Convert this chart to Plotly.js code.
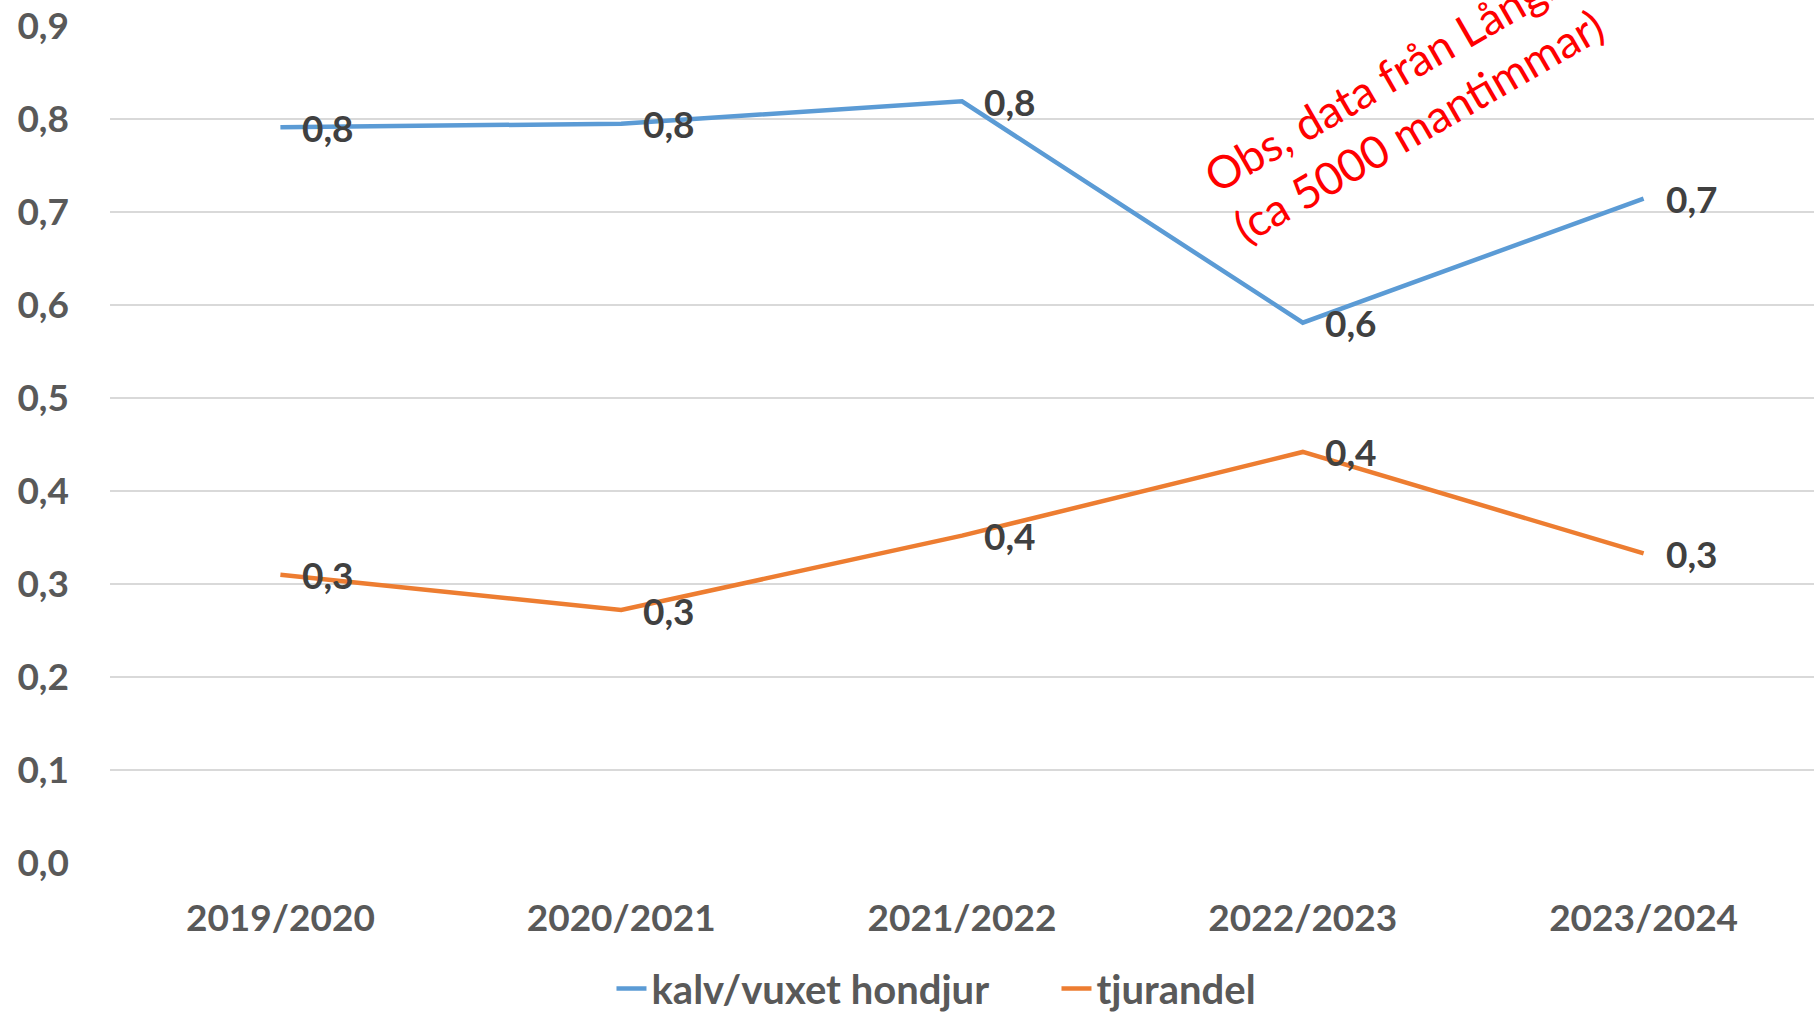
<!DOCTYPE html>
<html>
<head>
<meta charset="utf-8">
<script src="https://cdn.plot.ly/plotly-3.0.1.min.js"></script>
<style>
html,body{margin:0;padding:0;background:#fff;}
#chart{width:1814px;height:1013px;}
</style>
</head>
<body>
<div id="chart"></div>
<script>
const seasons = ["2019/2020", "2020/2021", "2021/2022", "2022/2023", "2023/2024"];
const kalvVuxetHondjur = [0.791, 0.795, 0.819, 0.581, 0.7145];
const tjurandel = [0.31, 0.272, 0.352, 0.442, 0.333];
const seriesNames = ["kalv/vuxet hondjur", "tjurandel"];
const noteLines = ["Obs, data från Långh", "(ca 5000 mantimmar)"];

const FONT = "Lato, 'DejaVu Sans', sans-serif";
const labelFont = {family: FONT, size: 37, color: "#404040", weight: 700};
const axisFont = {family: FONT, size: 37, color: "#595959", weight: 700};
const legendFont = {family: FONT, size: 40, color: "#595959", weight: 700};

function series(y, name, color) {
  return {
    type: "scatter",
    mode: "lines",
    x: seasons,
    y: y,
    name: name,
    line: {color: color, width: 4.5},
    hoverinfo: "skip"
  };
}

const data = [
  series(kalvVuxetHondjur, seriesNames[0], "#5B9BD5"),
  series(tjurandel, seriesNames[1], "#ED7D31")
];

function fmt(v) { return v.toFixed(1).replace(".", ","); }

const labelAnnotations = [];
[kalvVuxetHondjur, tjurandel].forEach(function (vals) {
  vals.forEach(function (v, i) {
    labelAnnotations.push({
      xref: "x", yref: "y",
      x: seasons[i], y: v,
      text: fmt(v),
      showarrow: false,
      xanchor: "left", yanchor: "middle",
      xshift: 20, yshift: 0,
      font: labelFont
    });
  });
});

const layout = {
  width: 1814,
  height: 1013,
  margin: {l: 110, r: 0, t: 26, b: 150, pad: 0, autoexpand: false},
  paper_bgcolor: "#ffffff",
  plot_bgcolor: "#ffffff",
  separators: ", ",
  showlegend: true,
  legend: {
    orientation: "h",
    x: 0.2943, xref: "paper", xanchor: "left",
    y: -0.150, yanchor: "middle",
    font: legendFont,
    itemwidth: 30,
    entrywidth: 400,
    entrywidthmode: "pixels",
    traceorder: "normal"
  },
  xaxis: {
    type: "category",
    range: [-0.5, 4.5],
    showgrid: false,
    zeroline: false,
    showline: false,
    ticks: "",
    tickangle: 0,
    automargin: false,
    tickfont: axisFont,
    ticklabelstandoff: 30
  },
  yaxis: {
    range: [0, 0.9],
    dtick: 0.1,
    tick0: 0,
    tickformat: ".1f",
    showgrid: true,
    gridcolor: "#d9d9d9",
    gridwidth: 2,
    zeroline: false,
    showline: false,
    ticks: "",
    automargin: false,
    tickfont: axisFont,
    ticklabelstandoff: 40
  },
  annotations: labelAnnotations.concat([{
    xref: "paper", yref: "paper",
    x: 0.7595, y: 0.9108,
    xanchor: "center", yanchor: "middle",
    text: noteLines.join("<br>"),
    align: "left",
    textangle: -30,
    showarrow: false,
    font: {family: FONT, size: 45, color: "#FF0000"}
  }])
};

Plotly.newPlot("chart", data, layout, {staticPlot: true, displayModeBar: false});
</script>
</body>
</html>
